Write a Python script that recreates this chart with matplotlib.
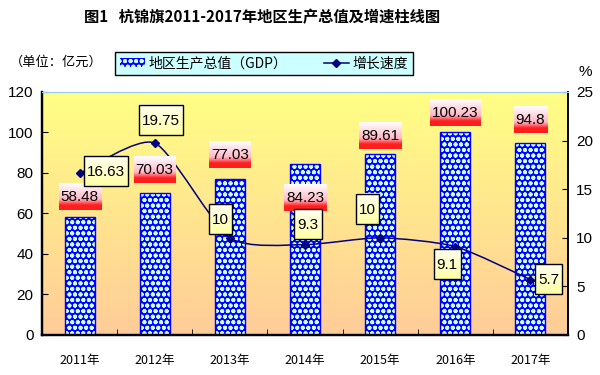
import matplotlib
matplotlib.use('Agg')
import matplotlib.pyplot as plt
import numpy as np
from matplotlib.path import Path
from matplotlib.patches import PathPatch, Patch, Rectangle
from matplotlib.lines import Line2D
from matplotlib import font_manager as fm

# ---------------- data ----------------
years = ['2011年', '2012年', '2013年', '2014年', '2015年', '2016年', '2017年']
gdp = [58.48, 70.03, 77.03, 84.23, 89.61, 100.23, 94.8]
growth = [16.63, 19.75, 10, 9.3, 10, 9.1, 5.7]
left_ticks = [0, 20, 40, 60, 80, 100, 120]
right_ticks = [0, 5, 10, 15, 20, 25]

# label layout (pixel offsets)
gdp_lab_dy = [20, 23, 24, -34, 18, 19, 23]
gr_lab_off = [(26, 1), (6, 22), (-9, 18), (3, 20), (-13, 28), (-8, -18), (18, 0)]

names = set(f.name for f in fm.fontManager.ttflist)
NUM = 'Liberation Sans Narrow' if 'Liberation Sans Narrow' in names else 'Liberation Sans'
CJK = 'Noto Sans CJK SC'
plt.rcParams['font.family'] = [CJK, 'DejaVu Sans']
plt.rcParams['hatch.linewidth'] = 1.3

fig = plt.figure(figsize=(6, 3.75), dpi=100)
ax = fig.add_axes([0.07, 0.1067, 0.8767, 0.648])

# background gradient
top = np.array([1.0, 1.0, 0.52])
bot = np.array([1.0, 0.80, 0.60])
t = np.linspace(0, 1, 256)[:, None]
grad = (top * (1 - t) + bot * t)[:, None, :]
ax.imshow(grad, extent=[0, 1, 0, 1], transform=ax.transAxes, aspect='auto', zorder=0)

x = np.arange(len(years))
ax.bar(x, gdp, 0.4, color='#0000FF', edgecolor='#C8FFFF', hatch='ooo', linewidth=0, zorder=2)
ax.bar(x, gdp, 0.4, fill=False, edgecolor='#0000FF', linewidth=1, zorder=3)
ax.set_xlim(-0.5, len(years) - 0.5)
ax.set_ylim(0, 120)
ax.set_yticks(left_ticks)
ax.set_yticklabels([str(v) for v in left_ticks], family=NUM, fontsize=11)
ax.set_xticks(x)
ax.set_xticklabels(years, fontsize=9)
ax.set_xticks(np.arange(0.5, len(years) - 1, 1), minor=True)
ax.tick_params(axis='x', which='major', length=0, pad=14)
ax.tick_params(axis='x', which='minor', direction='in', length=4)
ax.tick_params(axis='y', direction='in', length=4, pad=6)

ax2 = ax.twinx()
ax2.set_ylim(0, 25)
ax2.set_yticks(right_ticks)
ax2.set_yticklabels([str(v) for v in right_ticks], family=NUM, fontsize=11)
ax2.tick_params(axis='y', direction='in', length=4, pad=6)

for a in (ax, ax2):
    a.spines['top'].set_color('#99CCEE')
    a.spines['left'].set_linewidth(1.6)
    a.spines['bottom'].set_linewidth(1.6)
    a.spines['right'].set_linewidth(1.2)

# smoothed growth line (Catmull-Rom style -> Bezier, reduced tension)
P = np.column_stack([x, growth]).astype(float)
Pe = np.vstack([P[0], P, P[-1]])
verts = [P[0]]
codes = [Path.MOVETO]
for i in range(len(P) - 1):
    p0, p1, p2, p3 = Pe[i], Pe[i + 1], Pe[i + 2], Pe[i + 3]
    c1 = p1 + (p2 - p0) / 9
    c2 = p2 - (p3 - p1) / 9
    verts += [c1, c2, p2]
    codes += [Path.CURVE4] * 3
ax2.add_patch(PathPatch(Path(verts, codes), fill=False, edgecolor='#000080', lw=1.1, zorder=4))
ax2.plot(x, growth, 'D', color='#000080', ms=4.5, zorder=5)

# labels
gdp_texts = []
for i, v in enumerate(gdp):
    tx = ax2.annotate(f'{v:g}', xy=(i, v), xycoords=ax.transData, xytext=(0, gdp_lab_dy[i]),
                      textcoords='offset pixels', ha='center', va='center',
                      family=NUM, fontsize=11, zorder=7)
    gdp_texts.append(tx)
gr_texts = []
for i, v in enumerate(growth):
    tx = ax2.annotate(f'{v:g}', xy=(i, v), xytext=gr_lab_off[i],
                      textcoords='offset pixels', ha='center', va='center',
                      family=NUM, fontsize=11, zorder=9)
    gr_texts.append(tx)

fig.canvas.draw()
r = fig.canvas.get_renderer()
inv = ax2.transData.inverted()

red_top = np.array([1.0, 1.0, 1.0])
red_mid = np.array([1.0, 0.72, 0.78])
red_bot = np.array([1.0, 0.12, 0.12])
tt = np.linspace(0, 1, 64)
rgrad = np.array([red_top * (1 - s / 0.6) + red_mid * (s / 0.6) if s < 0.6 else
                  (red_mid * (1 - (s - 0.6) / 0.22) + red_bot * ((s - 0.6) / 0.22) if s < 0.82 else red_bot)
                  for s in tt])[:, None, :]
ygrad = np.array([np.array([1.0, 1.0, 0.94]) * (1 - s) + np.array([1.0, 1.0, 0.65]) * s for s in tt])[:, None, :]

for tx in gdp_texts:
    e = tx.get_window_extent(r)
    cx, cy = (e.x0 + e.x1) / 2, (e.y0 + e.y1) / 2 + 1
    (x0, y0), (x1, y1) = inv.transform([(e.x0 - 2, cy - 14), (e.x1 + 2, cy + 13)])
    ax2.imshow(rgrad, extent=[x0, x1, y0, y1], aspect='auto', zorder=6)
for tx in gr_texts:
    e = tx.get_window_extent(r)
    cx, cy = (e.x0 + e.x1) / 2, (e.y0 + e.y1) / 2 + 1
    (x0, y0), (x1, y1) = inv.transform([(e.x0 - 3, cy - 15), (e.x1 + 3, cy + 15)])
    ax2.imshow(ygrad, extent=[x0, x1, y0, y1], aspect='auto', zorder=8)
    ax2.add_patch(Rectangle((x0, y0), x1 - x0, y1 - y0, fill=False, edgecolor='black', lw=1, zorder=8.5))

ax.set_xlim(-0.5, len(years) - 0.5)
ax2.set_xlim(-0.5, len(years) - 0.5)
ax.set_ylim(0, 120)
ax2.set_ylim(0, 25)

# legend
h1 = Patch(facecolor='#0000FF', edgecolor='#C8FFFF', hatch='ooo', linewidth=0)
h2 = Line2D([0], [0], color='#000080', marker='D', ms=4.5, lw=1.1)
leg = fig.legend([h1, h2], ['地区生产总值（GDP）', '增长速度'], ncol=2,
                 loc='center', bbox_to_anchor=(0.44, 0.831), frameon=True, fancybox=False,
                 edgecolor='black', facecolor='#CCFFFF', framealpha=1, fontsize=10,
                 columnspacing=2.6, handlelength=1.8, handletextpad=0.3, borderpad=0.3)
leg.get_frame().set_linewidth(1)

fig.text(0.437, 0.955, '图1   杭锦旗2011-2017年地区生产总值及增速柱线图', ha='center', va='center',
         fontsize=11, fontweight='bold')
fig.text(0.017, 0.833, '（单位：亿元）', ha='left', va='center', fontsize=9.5)
fig.text(0.975, 0.808, '%', ha='center', va='center', family=NUM, fontsize=11)

fig.savefig('out.png', dpi=100)
